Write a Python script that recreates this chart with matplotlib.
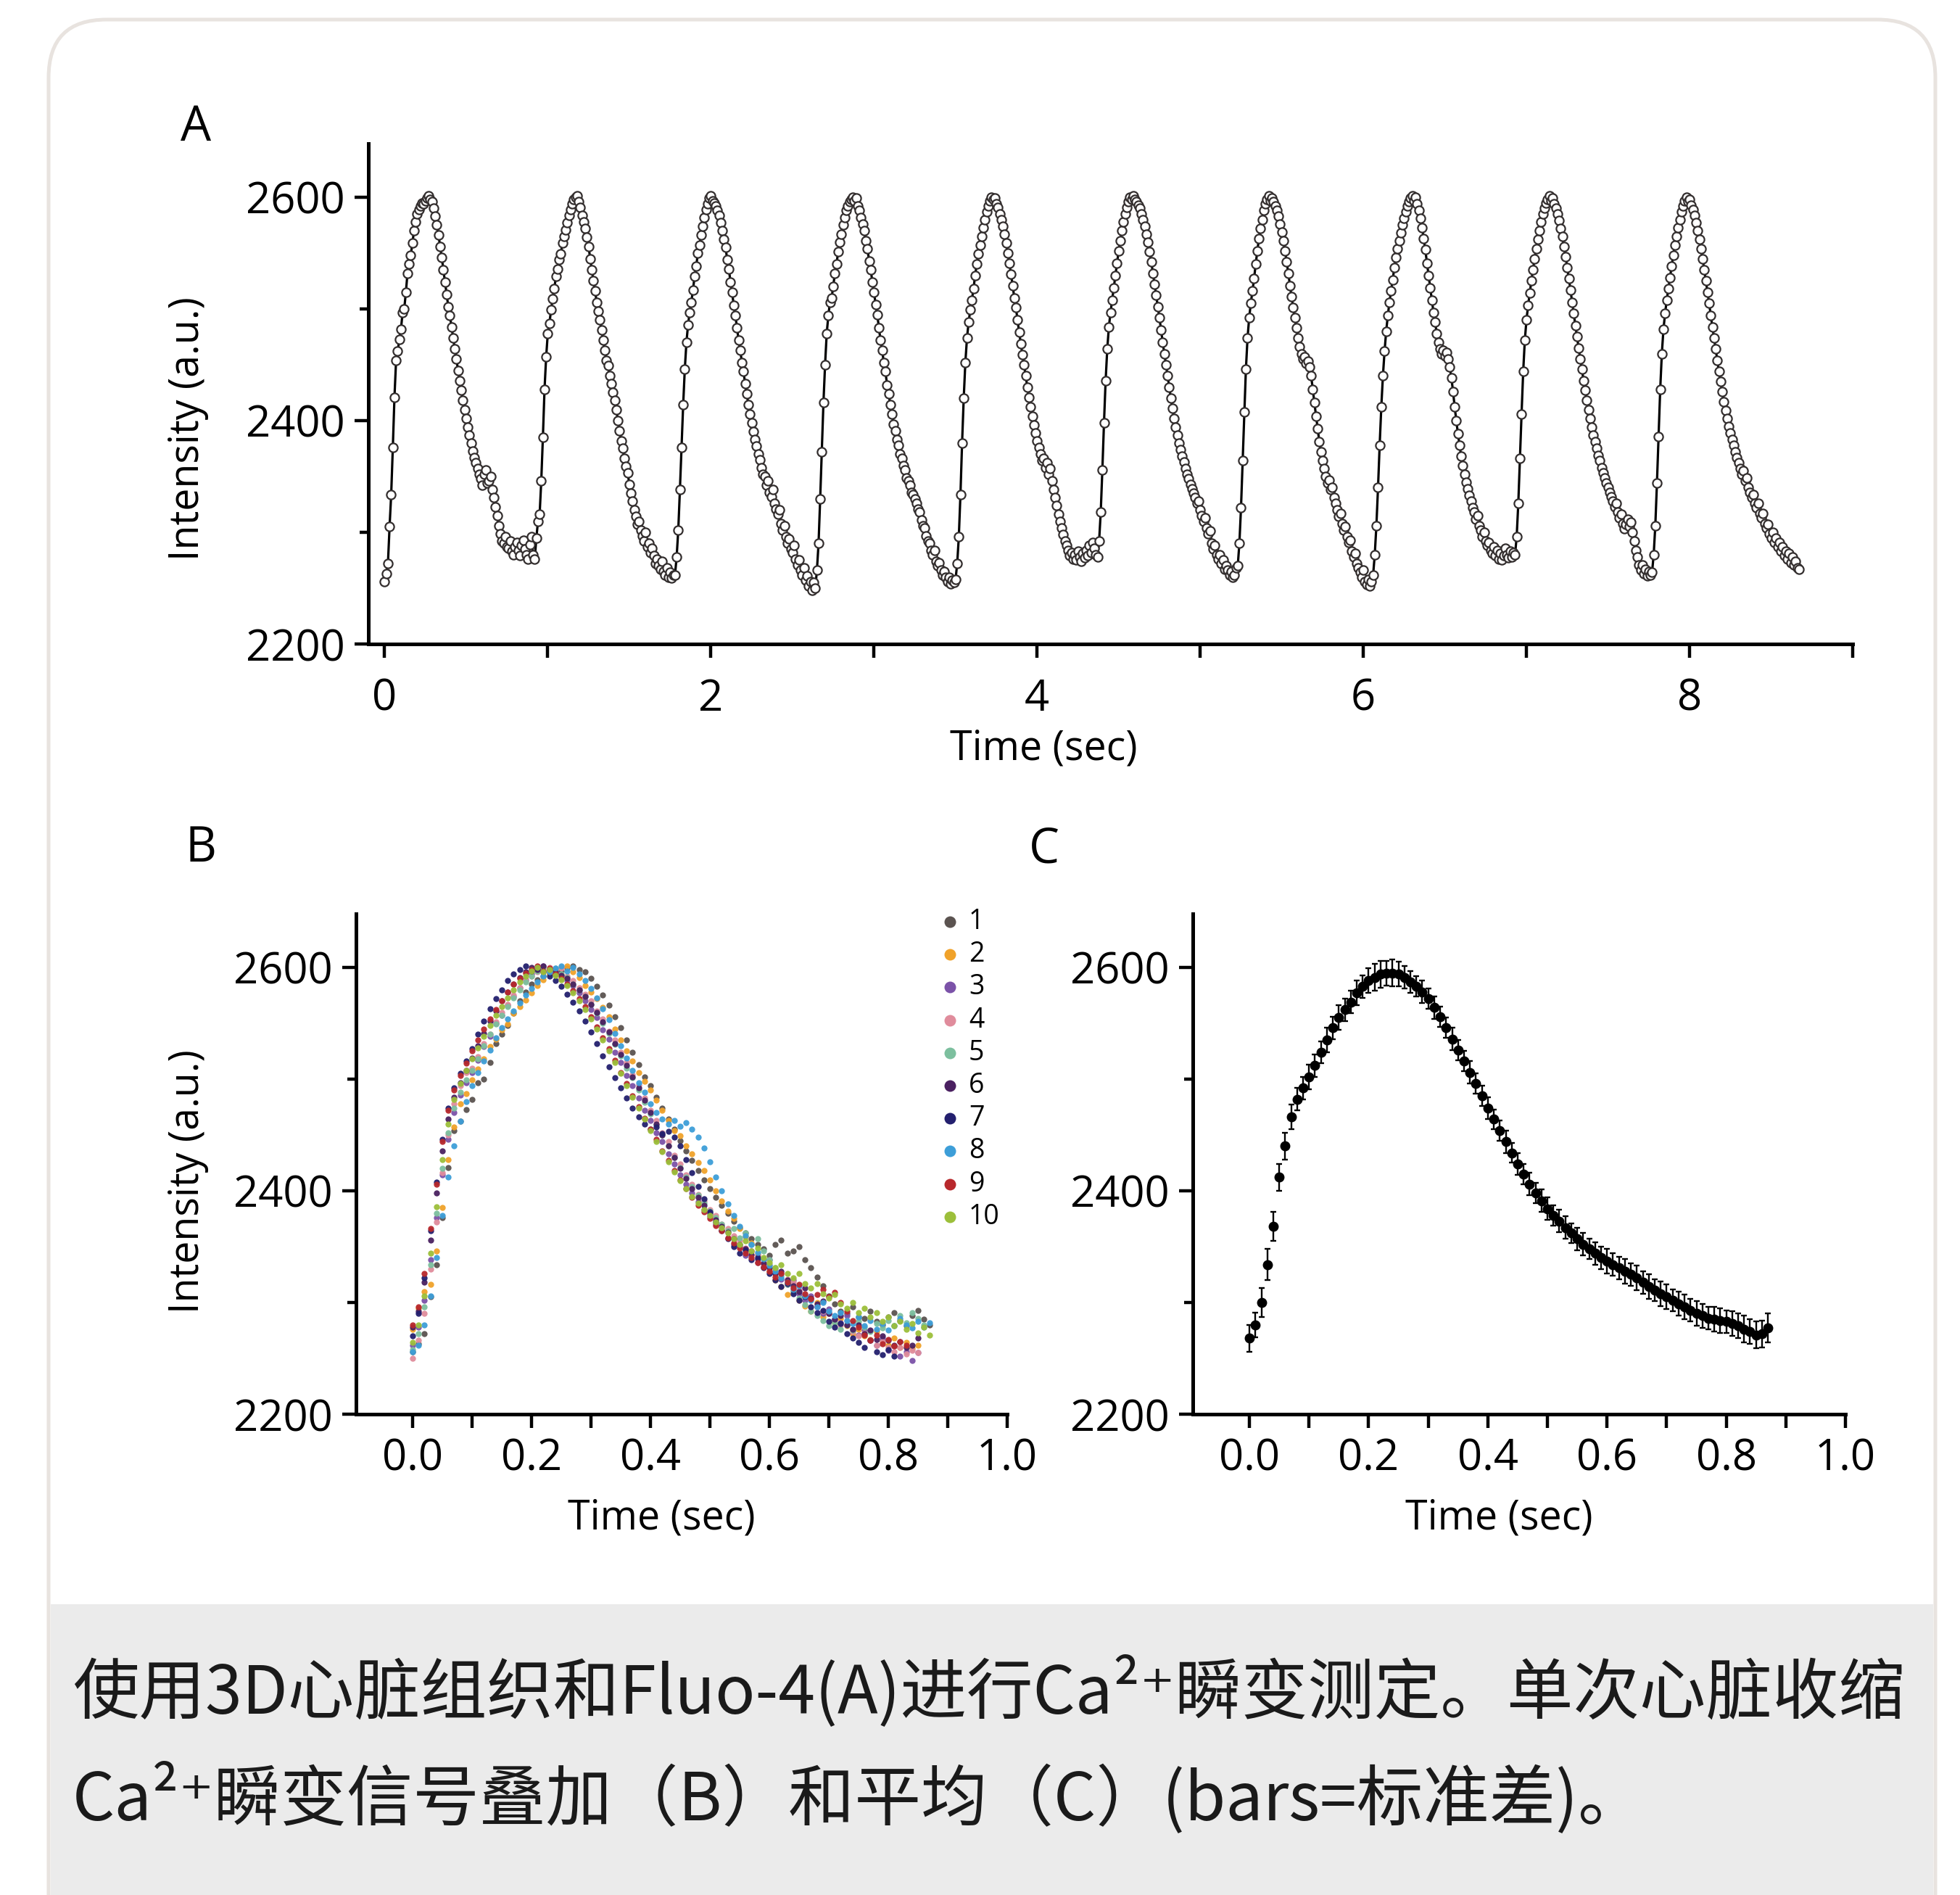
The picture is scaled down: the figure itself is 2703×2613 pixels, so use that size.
import numpy as np
import matplotlib
matplotlib.use("Agg")
import matplotlib.pyplot as plt
from matplotlib.patches import FancyBboxPatch, Rectangle
from matplotlib.transforms import Affine2D

# ---------------- data ----------------
DT = 0.01  # sampling interval (s)

beat1 = [2256, 2263, 2272, 2305, 2334, 2376, 2421, 2454, 2462, 2473,
         2482, 2497, 2500, 2515, 2532, 2540, 2548, 2559, 2570, 2578,
         2585, 2589, 2592, 2595, 2594, 2597, 2599, 2601, 2598, 2596,
         2590, 2583, 2575, 2566, 2556, 2546, 2535, 2524, 2513, 2502,
         2494, 2484, 2474, 2464, 2455, 2445, 2436, 2427, 2418, 2410,
         2402, 2394, 2387, 2380, 2373, 2367, 2362, 2357, 2352, 2348,
         2342, 2352, 2356, 2344, 2346, 2350, 2338, 2331, 2323, 2315,
         2306, 2299, 2292, 2290, 2296, 2287, 2286, 2292, 2283, 2280,
         2287, 2291, 2284, 2279, 2288, 2293, 2285, 2280, 2276, 2289,
         2296, 2280]
beat2 = [2276, 2295, 2310, 2316, 2346, 2385, 2428, 2457, 2478, 2487,
         2499, 2509, 2518, 2529, 2536, 2544, 2549, 2559, 2565, 2571,
         2577, 2584, 2589, 2594, 2598, 2600, 2601, 2596, 2591, 2584,
         2578, 2572, 2564, 2556, 2545, 2535, 2525, 2516, 2506, 2498,
         2490, 2481, 2472, 2463, 2454, 2449, 2440, 2433, 2425, 2418,
         2410, 2400, 2391, 2382, 2375, 2366, 2359, 2353, 2343, 2335,
         2328, 2320, 2314, 2307, 2310, 2302, 2297, 2292, 2300, 2287,
         2290, 2282, 2286, 2279, 2272, 2276, 2270, 2267, 2274, 2265,
         2262, 2268, 2260, 2264, 2259, 2262]
beat3 = [2262, 2278, 2302, 2338, 2376, 2414, 2446, 2470, 2486, 2497,
         2506, 2517, 2529, 2538, 2550, 2557, 2566, 2574, 2582, 2589,
         2594, 2599, 2601, 2597, 2595, 2592, 2588, 2584, 2577, 2570,
         2562, 2555, 2544, 2536, 2524, 2515, 2503, 2494, 2483, 2472,
         2463, 2452, 2444, 2433, 2424, 2414, 2406, 2398, 2390, 2383,
         2377, 2370, 2365, 2358, 2352, 2350, 2342, 2346, 2336, 2332,
         2338, 2326, 2321, 2316, 2320, 2308, 2302, 2306, 2296, 2290,
         2294, 2285, 2282, 2288, 2276, 2271, 2275, 2266, 2262, 2268,
         2257, 2261, 2252, 2256, 2248, 2255]
beat4 = [2250, 2266, 2290, 2330, 2372, 2416, 2450, 2478, 2494, 2506,
         2510, 2520, 2532, 2540, 2551, 2560, 2567, 2575, 2582, 2588,
         2592, 2596, 2598, 2600, 2597, 2599, 2592, 2588, 2582, 2576,
         2570, 2561, 2554, 2543, 2535, 2524, 2515, 2504, 2495, 2483,
         2472, 2463, 2452, 2444, 2432, 2424, 2414, 2406, 2397, 2391,
         2383, 2378, 2370, 2366, 2360, 2356, 2349, 2346, 2342, 2336,
         2334, 2330, 2326, 2321, 2318, 2311, 2306, 2304, 2297, 2292,
         2290, 2284, 2280, 2284, 2274, 2270, 2273, 2266, 2262, 2265,
         2260, 2256, 2260, 2254, 2257, 2255]
beat5 = [2258, 2272, 2296, 2334, 2380, 2420, 2452, 2474, 2488, 2499,
         2508, 2518, 2530, 2540, 2549, 2557, 2565, 2573, 2580, 2587,
         2592, 2597, 2600, 2598, 2599, 2594, 2591, 2585, 2580, 2574,
         2567, 2559, 2550, 2541, 2531, 2521, 2510, 2501, 2490, 2479,
         2469, 2459, 2450, 2440, 2430, 2421, 2412, 2404, 2396, 2389,
         2382, 2376, 2370, 2364, 2366, 2358, 2362, 2352, 2357, 2346,
         2338, 2331, 2324, 2316, 2310, 2304, 2298, 2292, 2288, 2284,
         2279, 2282, 2276, 2280, 2275, 2283, 2278, 2274, 2281, 2277,
         2284, 2279, 2288, 2282, 2291, 2286, 2280]
beat6 = [2278, 2292, 2318, 2356, 2398, 2436, 2464, 2484, 2497, 2508,
         2519, 2530, 2541, 2552, 2561, 2570, 2578, 2585, 2591, 2596,
         2600, 2598, 2601, 2598, 2596, 2593, 2590, 2585, 2580, 2574,
         2567, 2560, 2551, 2542, 2532, 2522, 2512, 2502, 2492, 2481,
         2470, 2460, 2450, 2440, 2430, 2420, 2411, 2402, 2394, 2387,
         2380, 2374, 2368, 2363, 2357, 2352, 2348, 2343, 2339, 2335,
         2331, 2326, 2328, 2320, 2315, 2310, 2313, 2304, 2299, 2301,
         2290, 2285, 2288, 2280, 2276, 2280, 2272, 2275, 2267, 2270,
         2266, 2262, 2265, 2260, 2262, 2268]
beat7 = [2270, 2290, 2322, 2364, 2408, 2446, 2474, 2492, 2505, 2516,
         2527, 2540, 2552, 2563, 2572, 2580, 2588, 2594, 2598, 2601,
         2597, 2599, 2596, 2592, 2588, 2583, 2576, 2569, 2561, 2552,
         2542, 2532, 2521, 2511, 2501, 2492, 2483, 2474, 2466, 2460,
         2455, 2457, 2451, 2453, 2448, 2440, 2428, 2416, 2404, 2393,
         2381, 2372, 2364, 2357, 2350, 2344, 2347, 2338, 2340, 2331,
         2326, 2320, 2314, 2317, 2308, 2302, 2305, 2296, 2291, 2293,
         2283, 2278, 2281, 2272, 2268, 2264, 2260, 2266, 2256, 2253,
         2258, 2252]
beat8 = [2256, 2262, 2280, 2306, 2340, 2378, 2412, 2440, 2462, 2480,
         2494, 2506, 2516, 2526, 2537, 2546, 2554, 2561, 2568, 2575,
         2581, 2587, 2592, 2596, 2599, 2601, 2597, 2600, 2594, 2588,
         2581, 2573, 2563, 2553, 2541, 2530, 2519, 2508, 2497, 2488,
         2478, 2470, 2464, 2460, 2463, 2458, 2461, 2455, 2448, 2438,
         2426, 2412, 2400, 2388, 2378, 2368, 2360, 2352, 2345, 2339,
         2333, 2328, 2322, 2318, 2312, 2315, 2306, 2302, 2296, 2300,
         2292, 2288, 2291, 2284, 2281, 2287, 2279, 2284, 2276, 2281,
         2275, 2279, 2286, 2280, 2277, 2283, 2278, 2282]
beat9 = [2280, 2296, 2326, 2366, 2406, 2444, 2472, 2490, 2503, 2514,
         2525, 2535, 2545, 2554, 2562, 2570, 2578, 2585, 2590, 2595,
         2598, 2601, 2597, 2599, 2594, 2590, 2585, 2579, 2572, 2565,
         2556, 2547, 2537, 2527, 2517, 2506, 2496, 2485, 2475, 2465,
         2455, 2446, 2436, 2427, 2418, 2410, 2402, 2394, 2387, 2381,
         2375, 2369, 2364, 2358, 2353, 2349, 2344, 2340, 2336, 2332,
         2328, 2323, 2326, 2318, 2313, 2316, 2308, 2303, 2307, 2312,
         2305, 2309, 2300, 2292, 2284, 2278, 2271, 2266, 2271, 2263,
         2267, 2261, 2265, 2262]
beat10 = [2264, 2280, 2306, 2344, 2386, 2428, 2460, 2482, 2496, 2508,
          2518, 2528, 2538, 2548, 2557, 2565, 2573, 2580, 2587, 2592,
          2597, 2600, 2596, 2598, 2593, 2589, 2584, 2577, 2570, 2562,
          2554, 2545, 2535, 2525, 2515, 2505, 2494, 2484, 2474, 2464,
          2454, 2444, 2435, 2426, 2417, 2409, 2402, 2395, 2389, 2383,
          2378, 2372, 2367, 2362, 2357, 2352, 2355, 2346, 2349, 2340,
          2336, 2331, 2334, 2326, 2322, 2326, 2317, 2313, 2317, 2308,
          2304, 2307, 2299, 2295, 2300, 2291, 2295, 2287, 2291, 2283,
          2287, 2279, 2283, 2276, 2281, 2273, 2278, 2271, 2274, 2268,
          2267]

beats = [beat1, beat2, beat3, beat4, beat5, beat6, beat7, beat8, beat9, beat10]
beat_labels = ["1", "2", "3", "4", "5", "6", "7", "8", "9", "10"]
B_WINDOW = 88  # samples per single-beat window shown in B

# Panel C: mean transient and SD (bars)
c_mean = [2268, 2280, 2300, 2334, 2368, 2412, 2440, 2466, 2482, 2492,
          2502, 2512, 2524, 2535, 2546, 2555, 2562, 2569, 2577, 2583,
          2588, 2591, 2594, 2595, 2595, 2594, 2591, 2587, 2583, 2578,
          2572, 2564, 2556, 2546, 2536, 2526, 2516, 2506, 2496, 2485,
          2474, 2464, 2454, 2444, 2434, 2424, 2415, 2406, 2398, 2391,
          2384, 2378, 2373, 2367, 2362, 2357, 2352, 2348, 2344, 2340,
          2337, 2334, 2331, 2328, 2325, 2322, 2318, 2314, 2311, 2308,
          2305, 2302, 2299, 2296, 2293, 2290, 2288, 2286, 2285, 2284,
          2283, 2281, 2279, 2276, 2274, 2271, 2272, 2277]
c_sd = [12, 11, 13, 14, 13, 12, 12, 11, 10, 10,
        11, 10, 10, 11, 10, 11, 10, 10, 11, 10,
        11, 12, 12, 11, 12, 11, 10, 10, 9, 10,
        9, 10, 9, 9, 10, 9, 9, 10, 9, 9,
        10, 9, 9, 10, 9, 10, 9, 10, 9, 10,
        10, 9, 10, 10, 9, 10, 10, 9, 10, 10,
        11, 10, 10, 11, 10, 11, 10, 11, 10, 11,
        11, 10, 11, 11, 10, 11, 11, 10, 11, 11,
        10, 11, 11, 12, 11, 12, 12, 13]

a_xticks = [0, 1, 2, 3, 4, 5, 6, 7, 8, 9]
a_xticklabels = ["0", "", "2", "", "4", "", "6", "", "8", ""]
bc_xticks = [0.0, 0.1, 0.2, 0.3, 0.4, 0.5, 0.6, 0.7, 0.8, 0.9, 1.0]
bc_xticklabels = ["0.0", "", "0.2", "", "0.4", "", "0.6", "", "0.8", "", "1.0"]
y_major = [2200, 2400, 2600]
y_minor = [2300, 2500]

caption_line1 = "使用3D心脏组织和Fluo-4(A)进行Ca²⁺瞬变测定。单次心脏收缩"
caption_line2 = "Ca²⁺瞬变信号叠加（B）和平均（C）(bars=标准差)。"

# ---------------- styles ----------------
beat_colors = ["#5b5350", "#f0a22a", "#7b52a8", "#e08c9c", "#7cbf9e",
               "#4a2060", "#231f6e", "#3d9ed8", "#b8282c", "#9cbf3a"]

W, H = 2703, 2613
DPI = 100
plt.rcParams["font.family"] = ["Open Sans", "Noto Sans CJK SC", "DejaVu Sans"]
CJK = ["Noto Sans CJK SC", "DejaVu Sans"]
TICK_FS = 43
LABEL_FS = 40

fig = plt.figure(figsize=(W / DPI, H / DPI), dpi=DPI, facecolor="white")
PX = Affine2D().scale(1.0 / W, 1.0 / H) + fig.transFigure  # pixel coords, y up


def ytop(y):
    return H - y


# card and caption background
card = FancyBboxPatch((67, ytop(2700)), 2669 - 67, 2700 - 27,
                      boxstyle="round,pad=0,rounding_size=80",
                      transform=PX, facecolor="white", edgecolor="#e8e3df",
                      linewidth=3.6, zorder=-10)
fig.patches.append(card)
cap_bg = Rectangle((70, ytop(2613)), 2666 - 70, 2613 - 2212, transform=PX,
                   facecolor="#ebebeb", edgecolor="none", zorder=-9)
fig.patches.append(cap_bg)


def add_ax(left, top, right, bottom, xpad):
    ax = fig.add_axes([left / W, 1 - bottom / H, (right - left) / W, (bottom - top) / H])
    ax.set_facecolor("none")
    for s in ("top", "right"):
        ax.spines[s].set_visible(False)
    for s in ("left", "bottom"):
        ax.spines[s].set_linewidth(3.6)
    ax.tick_params(which="major", direction="out", length=14, width=3.2, labelsize=TICK_FS)
    ax.tick_params(which="minor", direction="out", length=9, width=3.2)
    ax.tick_params(axis="y", pad=9)
    ax.tick_params(axis="x", pad=xpad)
    ax.set_ylim(2200, 2648)
    ax.set_yticks(y_major)
    ax.set_yticks(y_minor, minor=True)
    return ax


# ---------------- panel A ----------------
axA = add_ax(508, 198, 2555, 888, 19)
trace_a = np.concatenate([np.asarray(b, float) for b in beats])
time_a = np.arange(len(trace_a)) * DT
axA.plot(time_a, trace_a, "-o", color="black", lw=2.3, ms=8.8,
         mfc="white", mec="#332e2e", mew=1.6, clip_on=False)
axA.set_xlim(-0.1, 9.0)
axA.set_xticks(a_xticks)
axA.set_xticklabels(a_xticklabels)
axA.set_xlabel("Time (sec)", fontsize=LABEL_FS)
axA.xaxis.set_label_coords(0.455, -0.21)
axA.xaxis.label.set_va("center")
axA.set_ylabel("Intensity (a.u.)", fontsize=LABEL_FS)
axA.yaxis.set_label_coords(-0.1216, 0.43)
axA.yaxis.label.set_va("center")

# ---------------- panel B ----------------
axB = add_ax(491, 1260, 1389, 1950, 9)
for vals, col in zip(beats, beat_colors):
    v = np.asarray(vals[:B_WINDOW], float)
    axB.plot(np.arange(len(v)) * DT, v, "o", ms=6, color=col, mec="none", alpha=0.95)
axB.set_xlim(-0.095, 1.0)
axB.set_xticks(bc_xticks)
axB.set_xticklabels(bc_xticklabels)
axB.set_xlabel("Time (sec)", fontsize=LABEL_FS)
axB.xaxis.set_label_coords(0.469, -0.209)
axB.xaxis.label.set_va("center")
axB.set_ylabel("Intensity (a.u.)", fontsize=LABEL_FS)
axB.yaxis.set_label_coords(-0.258, 0.465)
axB.yaxis.label.set_va("center")

# legend (manual layout)
for i, (lab, col) in enumerate(zip(beat_labels, beat_colors)):
    yy = ytop(1271 + 45.2 * i)
    fig.lines.append(plt.Line2D([1310], [yy], marker="o", ms=11.5, color=col,
                                mec="none", transform=PX))
    fig.text(1336 / W, yy / H, lab, fontsize=27, ha="left", va="center")

# ---------------- panel C ----------------
axC = add_ax(1645, 1260, 2545, 1950, 9)
t_c = np.arange(len(c_mean)) * DT
axC.errorbar(t_c, c_mean, yerr=c_sd, fmt="o", color="black", ms=9,
             capsize=3.2, elinewidth=1.7, capthick=1.7)
axC.set_xlim(-0.095, 1.0)
axC.set_xticks(bc_xticks)
axC.set_xticklabels(bc_xticklabels)
axC.set_xlabel("Time (sec)", fontsize=LABEL_FS)
axC.xaxis.set_label_coords(0.469, -0.209)
axC.xaxis.label.set_va("center")

# panel letters
for lab, (px, py) in zip(["A", "B", "C"], [(270, 176), (277, 1170), (1440, 1172)]):
    fig.text(px / W, ytop(py) / H, lab, fontsize=48, ha="center", va="center")

# ---------------- caption ----------------
t1 = fig.text(100 / W, ytop(2333) / H, caption_line1, family=CJK, fontsize=60,
              ha="left", va="center", color="#1a1a1a")
t2 = fig.text(100 / W, ytop(2480) / H, caption_line2, family=CJK, fontsize=60,
              ha="left", va="center", color="#1a1a1a")
r = fig.canvas.get_renderer()
w1 = t1.get_window_extent(r).width
fs = 60 * (2529.0 / w1)
t1.set_fontsize(fs)
t2.set_fontsize(fs)

fig.savefig("out.png", dpi=DPI, facecolor="white")
